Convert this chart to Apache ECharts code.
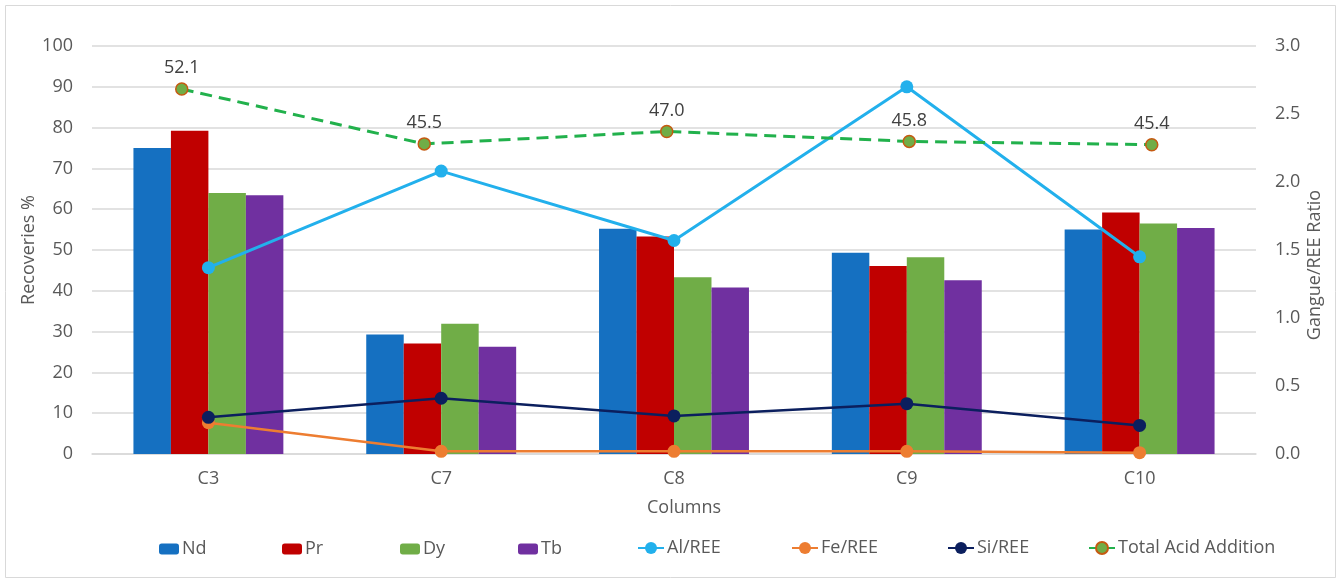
<!DOCTYPE html>
<html>
<head>
<meta charset="utf-8">
<script src="https://cdn.jsdelivr.net/npm/echarts@6/dist/echarts.min.js"></script>
<style>
html,body{margin:0;padding:0;background:#fff;}
#chart{width:1342px;height:579px;}
</style>
</head>
<body>
<div id="chart"></div>
<script>
// ---- data ----
var categories = ['C3', 'C7', 'C8', 'C9', 'C10'];
var nd = [75.0, 29.3, 55.2, 49.3, 55.0];
var pr = [79.2, 27.1, 53.3, 46.1, 59.2];
var dy = [64.0, 31.9, 43.3, 48.2, 56.5];
var tb = [63.4, 26.3, 40.8, 42.6, 55.4];
var alRee = [1.37, 2.08, 1.57, 2.70, 1.45];
var feRee = [0.23, 0.02, 0.02, 0.02, 0.01];
var siRee = [0.27, 0.41, 0.28, 0.37, 0.21];
var totalAcid = [52.1, 45.5, 47.0, 45.8, 45.4];
var leftTicks = [0, 100, 10];
var rightTicks = [0, 3, 0.5];

var FONT = 'Open Sans';
var TXT = '#595959';

var chart = echarts.init(document.getElementById('chart'), null, {renderer: 'canvas'});

function legendAt(name, left, isLine) {
  var l = {
    data: [name],
    left: left,
    top: isLine ? 534 : 535,
    itemWidth: isLine ? 26 : 20,
    itemHeight: isLine ? 15 : 11,
    textStyle: {fontFamily: FONT, fontSize: 18, color: TXT, padding: [0, 0, 0, -2]},
    selectedMode: false
  };
  if (isLine) { l.lineStyle = {type: 'solid'}; }
  return l;
}

var option = {
  animation: false,
  backgroundColor: '#fff',
  grid: [
    {left: 92, right: 86, top: 46, bottom: 125, containLabel: false},
    {left: 60.5, width: 1212.5, top: 23.4, bottom: 57, containLabel: false}
  ],
  legend: [
    legendAt('Nd', 154, false),
    legendAt('Pr', 277, false),
    legendAt('Dy', 395, false),
    legendAt('Tb', 513, false),
    legendAt('Al/REE', 632, true),
    legendAt('Fe/REE', 786, true),
    legendAt('Si/REE', 942, true),
    legendAt('Total Acid Addition', 1083, true)
  ],
  xAxis: [
    {
      type: 'category', gridIndex: 0, data: categories,
      axisLine: {show: true, lineStyle: {color: '#d9d9d9', width: 1.5}},
      axisTick: {show: false},
      axisLabel: {fontFamily: FONT, fontSize: 18, color: TXT, margin: 16}
    },
    {
      type: 'category', gridIndex: 1, data: categories,
      show: false
    }
  ],
  yAxis: [
    {
      type: 'value', gridIndex: 0, min: leftTicks[0], max: leftTicks[1], interval: leftTicks[2],
      axisLine: {show: false}, axisTick: {show: false},
      axisLabel: {fontFamily: FONT, fontSize: 18, color: TXT, margin: 19},
      splitLine: {lineStyle: {color: '#d9d9d9', width: 1.5}}
    },
    {
      type: 'value', gridIndex: 0, position: 'right', min: rightTicks[0], max: rightTicks[1], interval: rightTicks[2],
      axisLine: {show: false}, axisTick: {show: false},
      axisLabel: {fontFamily: FONT, fontSize: 18, color: TXT, margin: 19,
        formatter: function (v) { return v.toFixed(1); }},
      splitLine: {show: false}
    },
    {
      type: 'value', gridIndex: 1, min: 0, max: 60, show: false, splitLine: {show: false}
    }
  ],
  graphic: [
    {type: 'rect', shape: {x: 5.5, y: 5.5, width: 1330, height: 572}, style: {fill: 'none', stroke: '#d9d9d9', lineWidth: 1}, silent: true, z: -10},
    {type: 'text', x: 29, y: 250, rotation: Math.PI / 2,
      style: {text: 'Recoveries %', font: '18px "Open Sans"', fill: TXT, textAlign: 'center', textVerticalAlign: 'middle'}},
    {type: 'text', x: 1315, y: 265, rotation: Math.PI / 2,
      style: {text: 'Gangue/REE Ratio', font: '18px "Open Sans"', fill: TXT, textAlign: 'center', textVerticalAlign: 'middle'}},
    {type: 'text', x: 684, y: 508,
      style: {text: 'Columns', font: '18px "Open Sans"', fill: TXT, textAlign: 'center', textVerticalAlign: 'middle'}}
  ],
  series: [
    {name: 'Nd', type: 'bar', xAxisIndex: 0, yAxisIndex: 0, data: nd, barGap: '0%', barCategoryGap: '35.6%', itemStyle: {color: '#1570C1'}},
    {name: 'Pr', type: 'bar', xAxisIndex: 0, yAxisIndex: 0, data: pr, barGap: '0%', barCategoryGap: '35.6%', itemStyle: {color: '#C00000'}},
    {name: 'Dy', type: 'bar', xAxisIndex: 0, yAxisIndex: 0, data: dy, barGap: '0%', barCategoryGap: '35.6%', itemStyle: {color: '#70AD47'}},
    {name: 'Tb', type: 'bar', xAxisIndex: 0, yAxisIndex: 0, data: tb, barGap: '0%', barCategoryGap: '35.6%', itemStyle: {color: '#7030A0'}},
    {name: 'Al/REE', type: 'line', xAxisIndex: 0, yAxisIndex: 1, data: alRee, symbol: 'circle', symbolSize: 13,
      lineStyle: {color: '#22B0EC', width: 3}, itemStyle: {color: '#22B0EC'}, z: 5},
    {name: 'Fe/REE', type: 'line', xAxisIndex: 0, yAxisIndex: 1, data: feRee, symbol: 'circle', symbolSize: 13,
      lineStyle: {color: '#ED7D31', width: 2.5}, itemStyle: {color: '#ED7D31'}, z: 5},
    {name: 'Si/REE', type: 'line', xAxisIndex: 0, yAxisIndex: 1, data: siRee, symbol: 'circle', symbolSize: 13,
      lineStyle: {color: '#0B1F5E', width: 2.5}, itemStyle: {color: '#0B1F5E'}, z: 6},
    {name: 'Total Acid Addition', type: 'line', xAxisIndex: 1, yAxisIndex: 2, data: totalAcid, symbol: 'circle', symbolSize: 12,
      lineStyle: {color: '#22B14C', width: 3, type: [12, 7]},
      itemStyle: {color: '#70AD47', borderColor: '#C55A11', borderWidth: 1.5},
      label: {show: true, position: 'top', distance: 5, fontFamily: FONT, fontSize: 18, color: '#404040',
        formatter: function (p) { return p.value.toFixed(1); }},
      z: 7}
  ]
};
chart.setOption(option);
</script>
</body>
</html>
